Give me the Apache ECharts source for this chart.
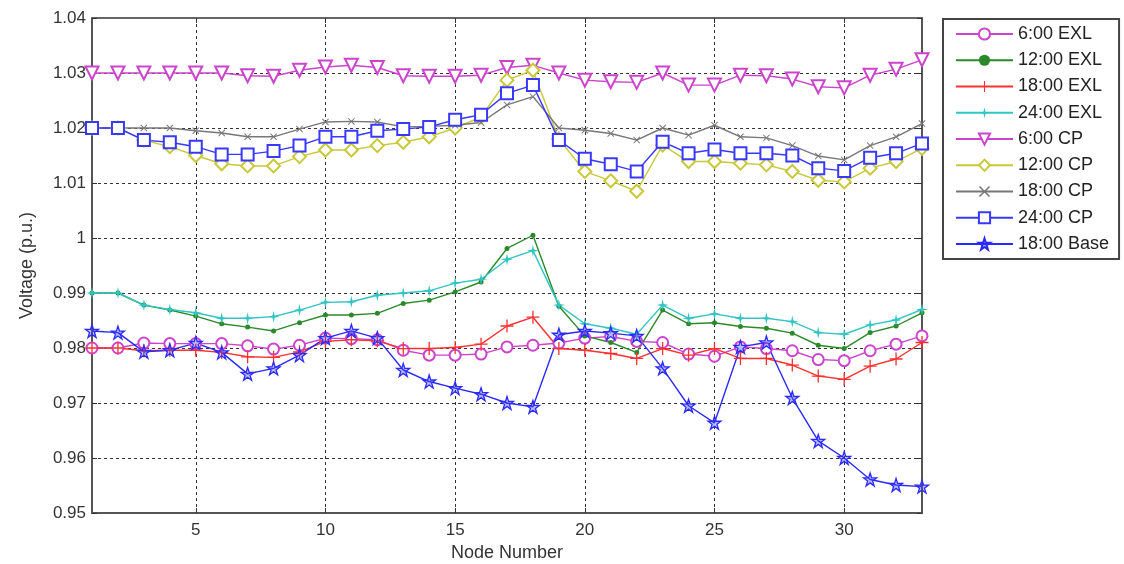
<!DOCTYPE html>
<html>
<head>
<meta charset="utf-8">
<script src="https://cdn.jsdelivr.net/npm/echarts@6/dist/echarts.min.js"></script>
<style>
  html, body { margin: 0; padding: 0; background: #fff; }
  #chart { width: 1124px; height: 564px; }
</style>
</head>
<body>
<div id="chart"></div>
<script>
// Node numbers of the feeder
const nodes = ['1','2','3','4','5','6','7','8','9','10','11','12','13','14','15','16','17',
               '18','19','20','21','22','23','24','25','26','27','28','29','30','31','32','33'];

// Node voltages (p.u.)
const exl06 = [0.980,0.980,0.9809,0.9808,0.9808,0.9808,0.9804,0.9798,0.9805,0.9818,0.9817,0.9815,0.9796,0.9787,0.9787,0.9789,0.9802,0.9805,0.9809,0.9818,0.9821,0.9812,0.981,0.9789,0.9785,0.9802,0.9799,0.9795,0.9779,0.9777,0.9795,0.9807,0.9822];
const exl12 = [0.990,0.990,0.9878,0.9869,0.9858,0.9844,0.9838,0.9831,0.9846,0.986,0.986,0.9863,0.9881,0.9887,0.9902,0.992,0.9981,1.0005,0.9876,0.9822,0.981,0.9792,0.9869,0.9844,0.9846,0.9839,0.9836,0.9827,0.9805,0.9799,0.9828,0.984,0.9864];
const exl18 = [0.980,0.980,0.9795,0.9796,0.9796,0.9792,0.9784,0.9783,0.9793,0.9812,0.9815,0.9813,0.9799,0.9799,0.9801,0.9807,0.984,0.9856,0.9799,0.9796,0.979,0.9781,0.9799,0.9787,0.9799,0.9781,0.9781,0.9769,0.9749,0.9743,0.9767,0.978,0.981];
const exl24 = [0.990,0.990,0.9878,0.987,0.9864,0.9854,0.9854,0.9857,0.9869,0.9883,0.9884,0.9896,0.990,0.9904,0.9918,0.9925,0.9961,0.9977,0.9878,0.9844,0.9836,0.9825,0.9878,0.9854,0.9862,0.9854,0.9854,0.9848,0.9828,0.9825,0.9842,0.9851,0.987];
const cp06  = [1.030,1.030,1.030,1.030,1.030,1.030,1.0295,1.0294,1.0305,1.0311,1.0314,1.031,1.0295,1.0294,1.0294,1.0296,1.031,1.0314,1.030,1.0287,1.0284,1.0283,1.030,1.0278,1.0278,1.0296,1.0295,1.0289,1.0275,1.0273,1.0296,1.0307,1.0324];
const cp12  = [1.020,1.020,1.0178,1.0166,1.015,1.0135,1.0131,1.0131,1.0148,1.016,1.016,1.0168,1.0174,1.0184,1.020,1.022,1.0287,1.0305,1.018,1.0121,1.0104,1.0085,1.0169,1.0139,1.0139,1.0136,1.0133,1.0121,1.0105,1.0102,1.0127,1.0139,1.0163];
const cp18  = [1.020,1.020,1.020,1.020,1.0195,1.0191,1.0184,1.0184,1.0198,1.0211,1.0212,1.0211,1.0202,1.0203,1.0205,1.021,1.0242,1.0257,1.020,1.0196,1.019,1.0178,1.020,1.0187,1.0205,1.0184,1.0182,1.0168,1.0149,1.0142,1.0168,1.0184,1.0208];
const cp24  = [1.020,1.020,1.0178,1.0174,1.0166,1.0152,1.0152,1.0158,1.0168,1.0184,1.0184,1.0195,1.0198,1.0202,1.0215,1.0224,1.0263,1.0278,1.0178,1.0144,1.0134,1.0121,1.0175,1.0154,1.0161,1.0154,1.0154,1.015,1.0127,1.0122,1.0146,1.0154,1.0172];
const base18 = [0.9831,0.9828,0.9793,0.9796,0.9809,0.9792,0.9753,0.9763,0.9787,0.9818,0.9831,0.9818,0.976,0.9739,0.9727,0.9716,0.970,0.9693,0.9824,0.9831,0.9827,0.9822,0.9763,0.9695,0.9664,0.9802,0.981,0.9709,0.9631,0.960,0.9561,0.9551,0.9548];

// Marker shapes
const PLUS = 'path://M4.5,0h1v4.5h4.5v1h-4.5v4.5h-1v-4.5h-4.5v-1h4.5z';
const SPARK = 'path://M5,0L5.9,4.1L10,5L5.9,5.9L5,10L4.1,5.9L0,5L4.1,4.1Z';
const CROSS = 'path://M0,1L1,0L5,4L9,0L10,1L6,5L10,9L9,10L5,6L1,10L0,9L4,5Z';
const STAR = 'path://M50,0L61.8,36.2L100,36.2L69.1,58.6L80.9,95L50,72.6L19.1,95L30.9,58.6L0,36.2L38.2,36.2Z';

const FONT = 'Liberation Sans';

function line(name, data, color, symbol, size, opts) {
  opts = opts || {};
  return {
    name: name,
    type: 'line',
    data: data,
    symbol: symbol,
    symbolSize: size,
    symbolRotate: opts.rotate || 0,
    lineStyle: { color: color, width: 1.4 },
    itemStyle: {
      color: opts.fill || color,
      borderColor: color,
      borderWidth: opts.border == null ? 1.3 : opts.border
    },
    emphasis: { disabled: true },
    animation: false
  };
}

const chart = echarts.init(document.getElementById('chart'), null, { renderer: 'canvas' });

const isMajor = (idx, val) => Number(val) % 5 === 0;

const gridLine = { show: true, lineStyle: { color: '#333', width: 1, type: [3, 3] } };

chart.setOption({
  backgroundColor: '#fff',
  animation: false,
  textStyle: { fontFamily: FONT },
  grid: { left: 92, top: 18, width: 830, height: 495, containLabel: false, outerBoundsMode: 'none' },
  legend: {
    orient: 'vertical',
    left: 943,
    top: 19,
    padding: [6, 10, 6, 12],
    itemWidth: 57,
    itemHeight: 14,
    itemGap: 8.25,
    borderColor: '#444',
    borderWidth: 2,
    backgroundColor: '#fff',
    textStyle: { fontFamily: FONT, fontSize: 18, lineHeight: 18, color: '#222' },
    data: ['6:00 EXL','12:00 EXL','18:00 EXL','24:00 EXL','6:00 CP','12:00 CP','18:00 CP','24:00 CP','18:00 Base']
  },
  xAxis: [{
    type: 'category',
    data: nodes,
    boundaryGap: false,
    name: 'Node Number',
    nameLocation: 'middle',
    nameGap: 30,
    nameTextStyle: { fontFamily: FONT, fontSize: 18, color: '#333' },
    axisLine: { show: true, lineStyle: { color: '#555', width: 2 } },
    axisTick: { show: true, inside: true, length: 5, interval: isMajor, lineStyle: { color: '#333' } },
    axisLabel: { interval: isMajor, margin: 9, fontSize: 17, color: '#333', fontFamily: FONT },
    splitLine: Object.assign({ interval: isMajor }, gridLine)
  }, {
    type: 'category',
    data: nodes,
    boundaryGap: false,
    position: 'top',
    axisLine: { show: true, lineStyle: { color: '#666', width: 2 } },
    axisTick: { show: true, inside: true, length: 5, interval: isMajor, lineStyle: { color: '#333' } },
    axisLabel: { show: false },
    splitLine: { show: false }
  }],
  yAxis: [{
    type: 'value',
    min: 0.95,
    max: 1.04,
    interval: 0.01,
    name: 'Voltage (p.u.)',
    nameLocation: 'middle',
    nameGap: 56,
    nameRotate: 90,
    nameTextStyle: { fontFamily: FONT, fontSize: 18, color: '#333' },
    axisLine: { show: true, lineStyle: { color: '#555', width: 2 } },
    axisTick: { show: true, inside: true, length: 5, lineStyle: { color: '#333' } },
    axisLabel: {
      margin: 6, fontSize: 17, color: '#333', fontFamily: FONT,
      formatter: v => String(parseFloat(Number(v).toFixed(2)))
    },
    splitLine: gridLine
  }, {
    type: 'value',
    min: 0.95,
    max: 1.04,
    interval: 0.01,
    position: 'right',
    axisLine: { show: true, lineStyle: { color: '#555', width: 2 } },
    axisTick: { show: true, inside: true, length: 5, lineStyle: { color: '#333' } },
    axisLabel: { show: false },
    splitLine: { show: false }
  }],
  series: [
    line('6:00 EXL',  exl06, '#cc44cc', 'emptyCircle', 11),
    line('12:00 EXL', exl12, '#2a8a2a', 'circle', 5, { border: 0 }),
    line('18:00 EXL', exl18, '#ff3030', PLUS, 13, { border: 0 }),
    line('24:00 EXL', exl24, '#33c4c4', SPARK, 12, { border: 0 }),
    line('6:00 CP',   cp06,  '#cc44cc', 'emptyTriangle', 13, { rotate: 180 }),
    line('12:00 CP',  cp12,  '#c8c83a', 'emptyDiamond', 13),
    line('18:00 CP',  cp18,  '#777777', CROSS, 7, { border: 0 }),
    line('24:00 CP',  cp24,  '#3838ff', 'emptyRect', 12),
    line('18:00 Base', base18, '#2a2aff', STAR, 13, { fill: 'rgba(60,60,255,0.35)' })
  ]
});
</script>
</body>
</html>
